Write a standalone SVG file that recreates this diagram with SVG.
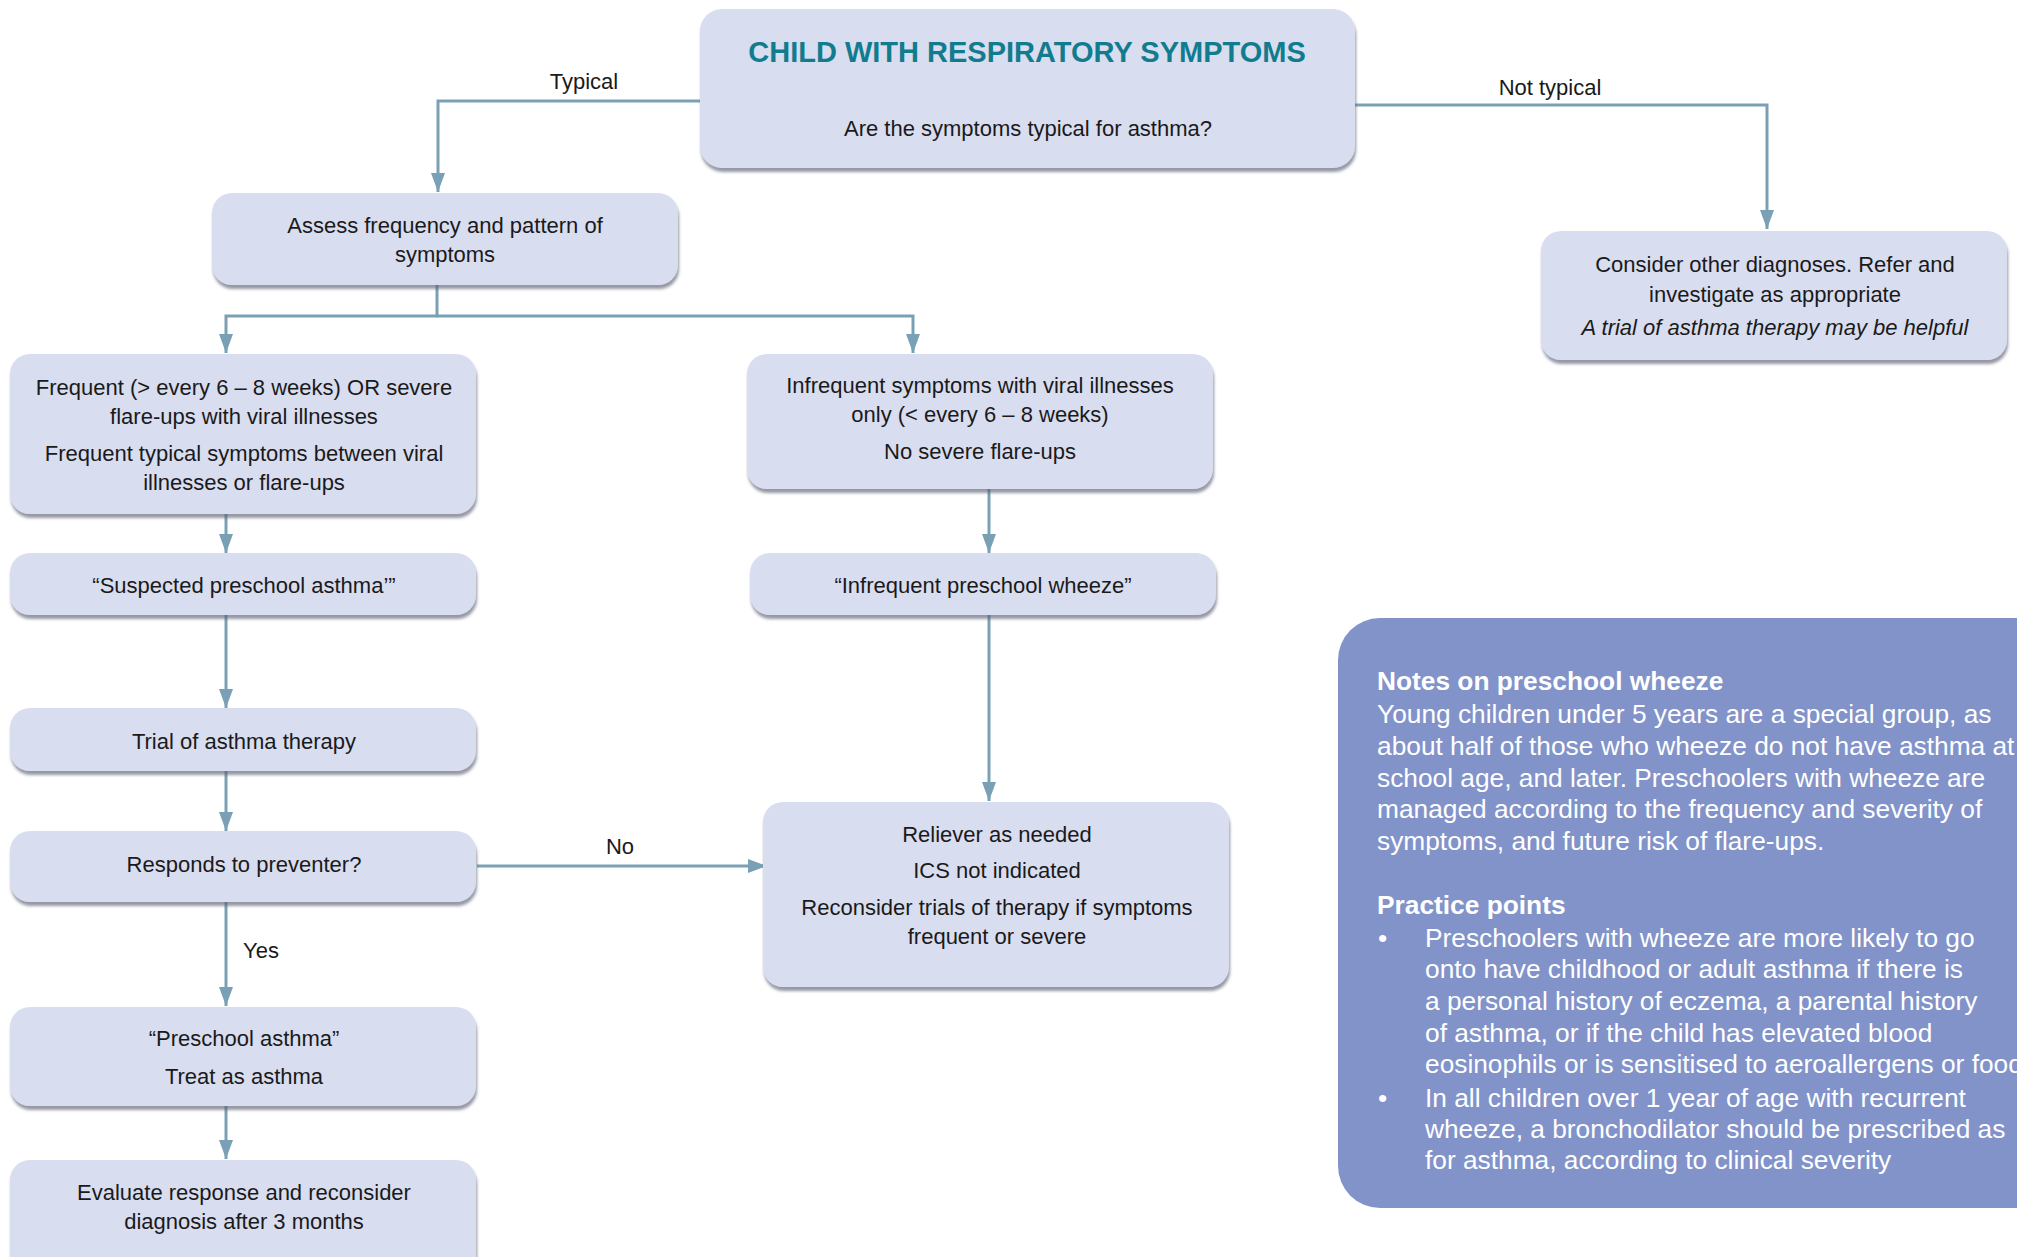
<svg xmlns="http://www.w3.org/2000/svg" width="2017" height="1257" viewBox="0 0 2017 1257">
<defs>
<filter id="sh" x="-5%" y="-10%" width="110%" height="125%">
<feDropShadow dx="1" dy="4" stdDeviation="1.4" flood-color="#5d6275" flood-opacity="0.65"/>
</filter>
<marker id="ah" markerUnits="userSpaceOnUse" markerWidth="19" markerHeight="16" viewBox="0 0 19 16" refX="19" refY="8" orient="auto">
<path d="M0,1 L19,8 L0,15 z" fill="#7aa0b6"/>
</marker>
<style>
.box{fill:#d9ddf0;filter:url(#sh);}
.t{font-family:"Liberation Sans",Arial,sans-serif;font-size:22px;fill:#1a1a1a;text-anchor:middle;}
.lbl{font-family:"Liberation Sans",Arial,sans-serif;font-size:22px;fill:#1a1a1a;}
.title{font-family:"Liberation Sans",Arial,sans-serif;font-size:29px;font-weight:bold;fill:#117c8e;text-anchor:middle;}
.con{fill:none;stroke:#7aa0b6;stroke-width:3;marker-end:url(#ah);}
.nt{font-family:"Liberation Sans",Arial,sans-serif;font-size:26.3px;fill:#ffffff;}
.nh{font-family:"Liberation Sans",Arial,sans-serif;font-size:26.3px;font-weight:bold;fill:#ffffff;}
</style>
</defs>
<rect width="2017" height="1257" fill="#ffffff"/>

<g id="connectors">
<path class="con" d="M700,101 H438 V192"/>
<path class="con" d="M1355,105 H1767 V229"/>
<path class="con" d="M437,285 V316 H226 V353"/>
<path class="con" d="M437,316 H913 V353"/>
<path class="con" d="M226,514 V553"/>
<path class="con" d="M989,489 V553"/>
<path class="con" d="M226,615 V708"/>
<path class="con" d="M226,771 V831"/>
<path class="con" d="M226,902 V1006"/>
<path class="con" d="M477,866 H767"/>
<path class="con" d="M989,615 V801"/>
<path class="con" d="M226,1106 V1159"/>
<text class="lbl" x="584" y="89" text-anchor="middle">Typical</text>
<text class="lbl" x="1550" y="95" text-anchor="middle">Not typical</text>
<text class="lbl" x="620" y="854" text-anchor="middle">No</text>
<text class="lbl" x="243" y="958">Yes</text>
</g>

<g id="n-start">
<rect class="box" x="700" y="9" width="655" height="159" rx="22"/>
<text class="title" x="1027" y="62">CHILD WITH RESPIRATORY SYMPTOMS</text>
<text class="t" x="1028" y="136">Are the symptoms typical for asthma?</text>
</g>

<g id="n-assess">
<rect class="box" x="212" y="193" width="466" height="92" rx="20"/>
<text class="t" x="445" y="233">Assess frequency and pattern of</text>
<text class="t" x="445" y="262">symptoms</text>
</g>

<g id="n-consider">
<rect class="box" x="1541" y="231" width="466" height="129" rx="20"/>
<text class="t" x="1775" y="272">Consider other diagnoses. Refer and</text>
<text class="t" x="1775" y="302">investigate as appropriate</text>
<text class="t" x="1775" y="335" font-style="italic">A trial of asthma therapy may be helpful</text>
</g>

<g id="n-frequent">
<rect class="box" x="10" y="354" width="466" height="160" rx="20"/>
<text class="t" x="244" y="395">Frequent (&gt; every 6 – 8 weeks) OR severe</text>
<text class="t" x="244" y="424">flare-ups with viral illnesses</text>
<text class="t" x="244" y="461">Frequent typical symptoms between viral</text>
<text class="t" x="244" y="490">illnesses or flare-ups</text>
</g>

<g id="n-infrequent">
<rect class="box" x="747" y="354" width="466" height="135" rx="20"/>
<text class="t" x="980" y="393">Infrequent symptoms with viral illnesses</text>
<text class="t" x="980" y="422">only (&lt; every 6 – 8 weeks)</text>
<text class="t" x="980" y="459">No severe flare-ups</text>
</g>

<g id="n-suspected">
<rect class="box" x="10" y="553" width="466" height="62" rx="20"/>
<text class="t" x="244" y="593">“Suspected preschool asthma’”</text>
</g>

<g id="n-ipw">
<rect class="box" x="750" y="553" width="466" height="62" rx="20"/>
<text class="t" x="983" y="593">“Infrequent preschool wheeze”</text>
</g>

<g id="n-trial">
<rect class="box" x="10" y="708" width="466" height="63" rx="20"/>
<text class="t" x="244" y="749">Trial of asthma therapy</text>
</g>

<g id="n-responds">
<rect class="box" x="10" y="831" width="466" height="71" rx="20"/>
<text class="t" x="244" y="872">Responds to preventer?</text>
</g>

<g id="n-reliever">
<rect class="box" x="763" y="802" width="466" height="185" rx="20"/>
<text class="t" x="997" y="842">Reliever as needed</text>
<text class="t" x="997" y="878">ICS not indicated</text>
<text class="t" x="997" y="915">Reconsider trials of therapy if symptoms</text>
<text class="t" x="997" y="944">frequent or severe</text>
</g>

<g id="n-preschool">
<rect class="box" x="10" y="1007" width="466" height="99" rx="20"/>
<text class="t" x="244" y="1046">“Preschool asthma”</text>
<text class="t" x="244" y="1084">Treat as asthma</text>
</g>

<g id="n-evaluate">
<rect class="box" x="10" y="1160" width="466" height="120" rx="20"/>
<text class="t" x="244" y="1200">Evaluate response and reconsider</text>
<text class="t" x="244" y="1229">diagnosis after 3 months</text>
</g>

<g id="notes">
<rect x="1338" y="618" width="720" height="590" rx="42" fill="#8193c9"/>
<text class="nh" x="1377" y="690">Notes on preschool wheeze</text>
<text class="nt" x="1377" y="723">Young children under 5 years are a special group, as</text>
<text class="nt" x="1377" y="755">about half of those who wheeze do not have asthma at</text>
<text class="nt" x="1377" y="787">school age, and later. Preschoolers with wheeze are</text>
<text class="nt" x="1377" y="818">managed according to the frequency and severity of</text>
<text class="nt" x="1377" y="850">symptoms, and future risk of flare-ups.</text>
<text class="nh" x="1377" y="914">Practice points</text>
<text class="nt" x="1378" y="947">•</text>
<text class="nt" x="1425" y="947">Preschoolers with wheeze are more likely to go</text>
<text class="nt" x="1425" y="978">onto have childhood or adult asthma if there is</text>
<text class="nt" x="1425" y="1010">a personal history of eczema, a parental history</text>
<text class="nt" x="1425" y="1042">of asthma, or if the child has elevated blood</text>
<text class="nt" x="1425" y="1073">eosinophils or is sensitised to aeroallergens or food</text>
<text class="nt" x="1378" y="1107">•</text>
<text class="nt" x="1425" y="1107">In all children over 1 year of age with recurrent</text>
<text class="nt" x="1425" y="1138">wheeze, a bronchodilator should be prescribed as</text>
<text class="nt" x="1425" y="1169">for asthma, according to clinical severity</text>
</g>
</svg>
